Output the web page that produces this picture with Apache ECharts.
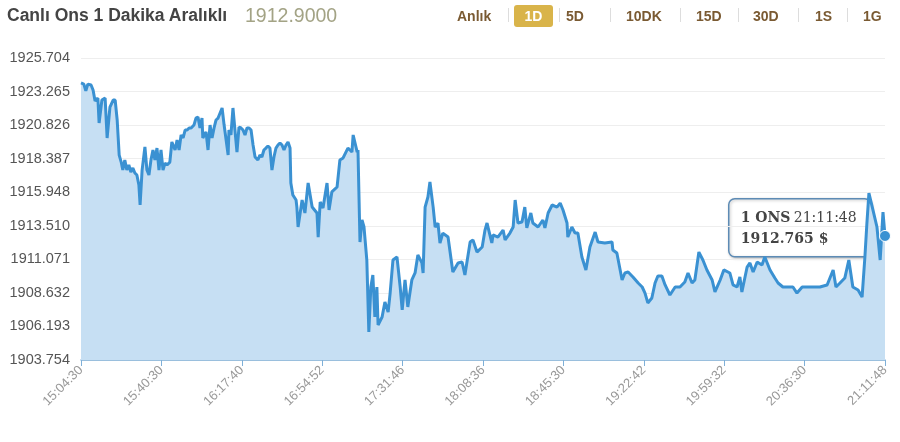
<!DOCTYPE html>
<html><head><meta charset="utf-8">
<script src="https://cdn.jsdelivr.net/npm/echarts@6/dist/echarts.min.js"></script>
<style>
html,body{margin:0;padding:0;background:#fff;}
#wrap{position:relative;width:900px;height:442px;font-family:"Liberation Sans",Arial,sans-serif;}
#chart{position:absolute;left:0;top:0;width:900px;height:442px;}
.hdr{position:absolute;top:6px;white-space:nowrap;z-index:2;}
.btn{position:absolute;top:5px;height:22px;line-height:22px;font-size:14px;font-weight:bold;color:#7a5a32;z-index:2;}
.sep{position:absolute;top:8px;width:1px;height:14px;background:#ddd;z-index:2;}
</style></head>
<body><div id="wrap">
<div id="chart"></div>
<div class="hdr" style="left:7px;font-size:17.5px;font-weight:bold;color:#444;top:5px">Canlı Ons 1 Dakika Aralıklı</div>
<div class="hdr" style="left:245px;font-size:19.5px;color:#a3a385;top:4px">1912.9000</div>
<div id="btns"></div>
</div>
<script>
const tickLabels = ["15:04:30","15:40:30","16:17:40","16:54:52","17:31:46","18:08:36","18:45:30","19:22:42","19:59:32","20:36:30","21:11:48"];
const yTicks = ["1903.754","1906.193","1908.632","1911.071","1913.510","1915.948","1918.387","1920.826","1923.265","1925.704"];
const buttons = ["Anlık","1D","5D","10DK","15D","30D","1S","1G"];
const steps = [0,0.7,1.2,1.7,2.5,3.0,3.5,4.2,4.5,5.2,6.0,6.5,7.2,8.0,8.5,9.0,9.5,10.0,10.4,10.9,11.4,11.9,12.4,12.9,13.4,13.9,14.4,14.7,15.2,15.9,16.4,16.9,17.4,17.9,18.4,18.9,19.4,19.9,20.4,20.9,21.4,22.1,22.6,23.4,23.9,24.4,24.9,25.4,25.9,26.4,26.9,27.4,28.1,28.6,29.1,29.6,30.1,30.3,31.1,31.6,32.1,32.6,33.1,33.6,34.1,34.6,35.1,35.6,36.6,36.8,37.3,37.8,38.3,38.8,39.3,39.8,40.3,40.8,41.3,41.8,42.3,42.8,43.3,44.0,44.5,45.0,45.5,46.0,46.5,47.0,47.5,48.0,48.5,49.0,49.5,50.0,50.5,51.0,51.5,52.0,52.2,52.7,53.5,53.7,54.0,55.0,55.7,56.5,57.5,58.7,59.0,59.5,60.2,61.2,61.7,62.4,63.7,64.4,65.2,66.4,67.4,67.7,68.7,68.9,69.4,69.9,70.4,71.1,71.6,72.1,72.6,73.1,73.6,73.9,74.9,75.6,76.4,76.9,77.6,78.6,79.4,79.9,80.6,81.3,82.3,83.1,83.8,84.8,85.1,85.6,86.3,86.8,87.6,88.1,88.8,89.3,90.0,91.3,92.5,93.8,94.8,95.5,96.8,97.5,98.5,99.8,100.5,101.0,102.2,102.5,103.7,105.0,105.5,106.7,107.5,108.0,108.7,109.7,110.4,110.9,111.9,112.4,113.7,114.9,115.4,116.2,117.2,118.4,119.2,119.9,120.9,121.1,122.1,122.9,123.6,124.6,125.6,126.6,127.9,128.6,130.3,132.1,132.3,133.3,134.6,135.3,136.1,137.3,138.6,139.6,140.3,141.0,142.0,142.8,143.5,144.5,145.3,146.5,147.8,149.0,150.2,151.0,152.0,152.7,153.7,154.7,155.7,157.0,157.7,159.0,159.9,161.4,162.2,163.2,163.9,164.4,165.7,166.4,167.2,168.2,169.4,170.1,171.4,172.6,173.4,174.6,175.9,177.1,178.1,179.4,180.6,182.1,183.8,185.6,187.1,187.8,188.8,190.0,191.0,192.0,193.3,194.3,195.0,195.5,196.0,197.0,198.0,198.8,199.5,200];
const prices = [1923.89,1923.81,1923.31,1923.81,1923.74,1923.38,1922.58,1922.80,1920.98,1922.65,1922.80,1919.89,1922.14,1922.65,1922.65,1921.20,1918.65,1918.14,1917.56,1918.29,1917.56,1917.93,1917.42,1917.71,1917.35,1917.20,1916.47,1915.02,1917.56,1919.24,1917.56,1917.20,1918.29,1919.02,1918.29,1919.16,1917.56,1919.02,1917.56,1918.07,1917.93,1918.14,1919.60,1919.02,1919.74,1919.02,1920.11,1919.89,1920.47,1920.47,1920.62,1920.62,1920.83,1921.34,1921.42,1920.62,1921.34,1919.89,1920.33,1919.02,1920.83,1919.89,1920.62,1921.20,1921.34,1921.71,1922.07,1920.83,1918.65,1920.47,1920.11,1922.07,1920.47,1918.87,1920.69,1920.62,1920.47,1920.11,1920.62,1920.62,1920.47,1919.38,1918.51,1918.29,1918.65,1918.51,1919.02,1919.16,1919.31,1919.16,1917.56,1918.51,1919.16,1919.38,1919.53,1919.38,1919.02,1919.38,1919.60,1919.16,1916.62,1915.75,1915.38,1914.87,1913.42,1915.38,1914.44,1916.62,1914.87,1914.44,1912.69,1915.24,1914.80,1916.62,1914.66,1915.97,1916.33,1918.29,1918.44,1919.16,1918.87,1920.11,1918.87,1919.02,1912.33,1913.93,1913.42,1911.02,1905.79,1909.06,1909.93,1906.88,1909.06,1906.30,1906.88,1907.97,1907.24,1908.62,1911.02,1911.24,1909.06,1907.39,1909.57,1907.61,1909.57,1910.08,1911.39,1910.81,1910.08,1914.87,1915.60,1916.69,1914.87,1913.42,1913.71,1912.26,1912.98,1912.69,1910.15,1910.81,1910.88,1909.93,1912.33,1912.48,1911.60,1911.97,1913.20,1913.71,1912.26,1912.84,1912.69,1913.20,1912.48,1912.98,1913.42,1915.38,1913.71,1913.78,1914.87,1913.35,1914.44,1913.71,1913.42,1913.93,1913.35,1914.44,1915.02,1914.87,1915.16,1914.66,1913.71,1912.69,1913.42,1912.98,1912.98,1911.24,1910.30,1911.97,1913.05,1912.33,1912.26,1912.33,1911.75,1911.53,1909.57,1910.08,1910.15,1909.79,1909.35,1909.06,1908.62,1907.90,1908.26,1909.35,1909.86,1909.86,1909.21,1908.48,1909.06,1909.06,1909.42,1910.08,1909.35,1909.57,1911.60,1911.02,1910.30,1909.57,1908.70,1909.57,1910.30,1910.08,1909.21,1909.06,1909.79,1908.70,1910.51,1910.81,1910.15,1910.88,1910.66,1911.24,1910.30,1909.71,1909.35,1909.06,1909.06,1909.06,1908.62,1909.06,1909.06,1909.06,1909.06,1909.21,1910.30,1909.06,1909.35,1909.71,1911.02,1909.06,1908.84,1908.33,1911.24,1913.71,1915.89,1914.66,1913.42,1911.02,1914.51,1912.77];
const lastLabel = "1912.765";

const btnPos = [[457,null],[514,39],[566,null],[626,null],[696,null],[753,null],[815,null],[863,null]];
const seps = [508,559,610,680,738,798,847];
let h = '';
buttons.forEach((b,i)=>{
  const [x,w] = btnPos[i];
  if (b === "1D") h += `<div class="btn" style="left:${x}px;width:${w}px;text-align:center;background:#d9b44a;color:#fff;border-radius:3px;">${b}</div>`;
  else h += `<div class="btn" style="left:${x}px">${b}</div>`;
});
seps.forEach(x=>{ h += `<div class="sep" style="left:${x}px"></div>`; });
document.getElementById('btns').innerHTML = h;

const yMin = 1903.754, yInt = 2.439;
const data = steps.map((s,i)=>[s,prices[i]]);
const chart = echarts.init(document.getElementById('chart'));
chart.setOption({
  animation:false,
  grid:{left:81,right:15,top:58,bottom:82},
  xAxis:{type:'value',min:0,max:200,interval:20,
    axisLine:{lineStyle:{color:'#7fb0d8',width:1.5}},
    axisTick:{show:true,length:6,lineStyle:{color:'#7fb0d8'}},
    splitLine:{show:false},
    axisLabel:{rotate:45,color:'#999',fontSize:13,fontFamily:'Liberation Sans',margin:8,
      formatter:v=>tickLabels[Math.round(v/20)]||''}},
  yAxis:{type:'value',min:yMin,max:yMin+9*yInt,interval:yInt,
    axisLine:{show:false},axisTick:{show:false},
    splitLine:{lineStyle:{color:'#eeeeee'}},
    axisLabel:{color:'#555',fontSize:14.5,fontFamily:'Liberation Sans',margin:11,
      formatter:v=>yTicks[Math.round((v-yMin)/yInt)]||''}},
  graphic:[{type:'group',left:728,top:198,z:100,children:[
    {type:'rect',shape:{x:0,y:0,width:142,height:58,r:6},
     style:{fill:'#fff',stroke:'#5d8bb5',lineWidth:1.5,shadowBlur:3,shadowOffsetX:1,shadowOffsetY:1,shadowColor:'rgba(0,0,0,0.25)'}},
    {type:'text',left:12,top:9,style:{
      text:'{b|1 ONS} {n|'+tickLabels[tickLabels.length-1]+'}\n{b|'+lastLabel+' $}',
      lineHeight:21,
      rich:{b:{fontFamily:'DejaVu Serif',fontWeight:'bold',fontSize:14,fill:'#444',lineHeight:21},
            n:{fontFamily:'DejaVu Serif',fontSize:14,fill:'#444',lineHeight:21}}}}
  ]}],
  series:[{type:'line',data:data,showSymbol:false,symbol:'circle',
    lineStyle:{color:'#3a91d2',width:3},
    itemStyle:{color:'#3a91d2'},
    areaStyle:{color:'#c6dff3',opacity:1},
    markPoint:{symbol:'circle',symbolSize:11,label:{show:false},itemStyle:{color:'#3a91d2',borderColor:'#fff',borderWidth:1},
      data:[{coord:data[data.length-1]}]}
  }]
});
</script></body></html>
